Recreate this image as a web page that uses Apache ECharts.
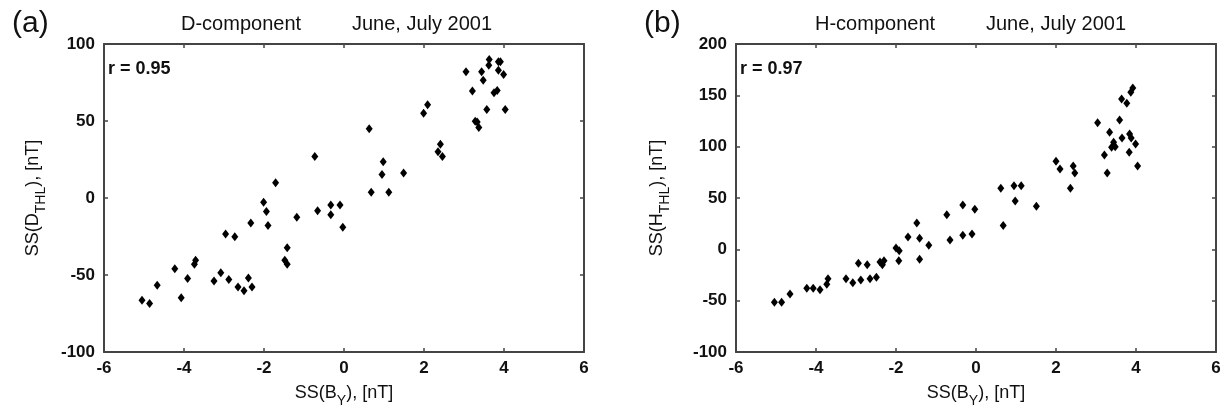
<!DOCTYPE html>
<html><head><meta charset="utf-8">
<script src="https://cdn.jsdelivr.net/npm/echarts@6/dist/echarts.min.js"></script>
<style>html,body{margin:0;padding:0;background:#fff}#c{width:1225px;height:410px}</style>
</head><body><div id="c"></div>
<script>
// ---- data ----
const xMin = -6, xMax = 6, xStep = 2;
const dMin = -100, dMax = 100, dStep = 50;
const hMin = -100, hMax = 200, hStep = 50;

const dX = [3.63,3.86,3.91,3.62,3.86,3.05,3.44,3.99,3.48,3.21,3.75,3.83,3.57,4.03,3.28,3.33,3.37,1.99,2.09,0.63,2.41,2.35,2.46,0.98,0.95,1.49,0.68,1.12,-0.73,-1.71,-2.01,-1.94,-1.90,-1.18,-0.66,-0.33,-0.33,-0.10,-0.03,-2.33,-2.96,-2.73,-1.42,-1.48,-1.42,-3.71,-3.74,-4.23,-3.91,-4.67,-4.07,-5.05,-4.86,-3.25,-3.08,-2.88,-2.65,-2.50,-2.39,-2.30];
const dY = [89.9,88.4,88.4,86.2,83.0,81.9,81.9,80.2,76.5,69.4,68.3,69.8,57.5,57.5,49.8,49.4,45.7,55.0,60.6,45.0,34.9,30.0,26.9,23.5,15.3,16.2,3.7,3.7,26.9,9.9,-2.8,-8.8,-17.9,-12.5,-8.2,-4.5,-10.8,-4.5,-19.0,-16.2,-23.3,-25.2,-32.3,-40.5,-43.1,-40.5,-43.1,-45.9,-52.2,-56.7,-64.7,-66.4,-68.5,-53.9,-48.5,-53.0,-57.8,-60.3,-51.9,-57.8];

const hX = [3.92,3.87,3.64,3.77,3.04,3.59,3.34,3.84,3.65,3.88,3.44,3.99,3.39,3.48,3.21,3.83,3.28,4.04,2.00,2.10,2.43,2.47,2.36,0.62,0.95,1.13,0.98,1.51,0.68,-0.33,-0.03,-0.73,-0.65,-0.33,-0.10,-1.48,-1.41,-1.18,-1.41,-1.70,-2.00,-1.92,-1.93,-2.30,-2.34,-2.40,-2.72,-2.94,-2.88,-2.65,-2.49,-3.08,-3.25,-3.70,-3.73,-3.90,-4.07,-4.23,-4.65,-4.86,-5.04];
const hY = [157.1,152.9,146.4,142.2,123.4,126.0,114.0,112.3,108.4,108.4,104.2,102.6,99.4,100.0,91.9,94.5,74.4,81.2,85.7,78.2,81.2,74.4,59.4,59.4,62.0,62.0,47.1,41.9,23.1,43.2,39.0,33.8,9.1,13.6,14.9,25.6,10.7,3.9,-9.7,12.0,1.3,-1.3,-11.0,-11.0,-14.9,-12.3,-14.9,-13.6,-29.9,-28.6,-27.3,-32.5,-28.6,-28.6,-34.1,-39.3,-38.0,-38.0,-43.5,-51.6,-51.6];

const panelLabels = ['(a)', '(b)'];
const titlesLeft = ['D-component', 'H-component'];
const titleRight = 'June, July 2001';
const rTexts = ['r = 0.95', 'r = 0.97'];
const yNames = [['SS(D', 'THL', '), [nT]'], ['SS(H', 'THL', '), [nT]']];
const xName = ['SS(B', 'Y', '), [nT]'];

// ---- chart ----
const FONT = '"Liberation Sans", Arial, Helvetica, sans-serif';
const AX = '#444';
const chart = echarts.init(document.getElementById('c'), null, {renderer: 'canvas'});

const grids = [
  {left: 104, right: 641, top: 44, bottom: 58, containLabel: false, outerBoundsMode: 'none'},
  {left: 736, right: 9, top: 44, bottom: 58, containLabel: false, outerBoundsMode: 'none'}
];

function rich() {
  return {
    m: {fontSize: 18, fontFamily: FONT, color: '#111'},
    s: {fontSize: 14, fontFamily: FONT, color: '#111', padding: [15, 0, 0, 0]}
  };
}
function nameStr(p) { return '{m|' + p[0] + '}{s|' + p[1] + '}{m|' + p[2] + '}'; }

const xAxes = [], yAxes = [];
[0, 1].forEach(g => {
  xAxes.push({
    type: 'value', gridIndex: g, position: 'bottom', min: xMin, max: xMax, interval: xStep,
    axisLine: {show: true, onZero: false, lineStyle: {color: AX, width: 2}},
    axisTick: {show: true, inside: true, length: 4, lineStyle: {color: AX, width: 1.5}},
    axisLabel: {show: true, margin: 8, color: '#111', fontFamily: FONT, fontSize: 17, fontWeight: 'bold'},
    splitLine: {show: false},
    name: nameStr(xName), nameLocation: 'middle', nameGap: 27,
    nameTextStyle: {rich: rich()}
  });
  xAxes.push({
    type: 'value', gridIndex: g, position: 'top', min: xMin, max: xMax, interval: xStep,
    axisLine: {show: true, onZero: false, lineStyle: {color: AX, width: 2}},
    axisTick: {show: true, inside: true, length: 4, lineStyle: {color: AX, width: 1.5}},
    axisLabel: {show: false}, splitLine: {show: false}
  });
  const ymin = g === 0 ? dMin : hMin, ymax = g === 0 ? dMax : hMax, ystep = g === 0 ? dStep : hStep;
  yAxes.push({
    type: 'value', gridIndex: g, position: 'left', min: ymin, max: ymax, interval: ystep,
    axisLine: {show: true, onZero: false, lineStyle: {color: AX, width: 2}},
    axisTick: {show: true, inside: true, length: 4, lineStyle: {color: AX, width: 1.5}},
    axisLabel: {show: true, margin: 9, color: '#111', fontFamily: FONT, fontSize: 17, fontWeight: 'bold'},
    splitLine: {show: false},
    name: nameStr(yNames[g]), nameLocation: 'middle', nameGap: g === 0 ? 56 : 64, nameRotate: 90,
    nameTextStyle: {rich: rich()}
  });
  yAxes.push({
    type: 'value', gridIndex: g, position: 'right', min: ymin, max: ymax, interval: ystep,
    axisLine: {show: true, onZero: false, lineStyle: {color: AX, width: 2}},
    axisTick: {show: true, inside: true, length: 4, lineStyle: {color: AX, width: 1.5}},
    axisLabel: {show: false}, splitLine: {show: false}
  });
});

function pairs(xs, ys) { return xs.map((x, i) => [x, ys[i]]); }

const graphics = [];
const panelX = [12, 644];
const titleLX = [181, 815];
const titleRX = [352, 986];
const rX = [108, 740];
[0, 1].forEach(g => {
  graphics.push({type: 'text', left: panelX[g], top: 9,
    style: {text: panelLabels[g], font: '30px ' + FONT, fill: '#111'}});
  graphics.push({type: 'text', left: titleLX[g], top: 14,
    style: {text: titlesLeft[g], font: '20px ' + FONT, fill: '#111'}});
  graphics.push({type: 'text', left: titleRX[g], top: 14,
    style: {text: titleRight, font: '20px ' + FONT, fill: '#111'}});
  graphics.push({type: 'text', left: rX[g], top: 60,
    style: {text: rTexts[g], font: 'bold 18px ' + FONT, fill: '#111'}});
});

chart.setOption({
  animation: false,
  backgroundColor: '#fff',
  grid: grids,
  xAxis: xAxes,
  yAxis: yAxes,
  graphic: graphics,
  series: [
    {type: 'scatter', xAxisIndex: 0, yAxisIndex: 0, data: pairs(dX, dY),
     symbol: 'diamond', symbolSize: [7, 9], itemStyle: {color: '#000', opacity: 1}},
    {type: 'scatter', xAxisIndex: 2, yAxisIndex: 2, data: pairs(hX, hY),
     symbol: 'diamond', symbolSize: [7, 9], itemStyle: {color: '#000', opacity: 1}}
  ]
});
</script></body></html>
